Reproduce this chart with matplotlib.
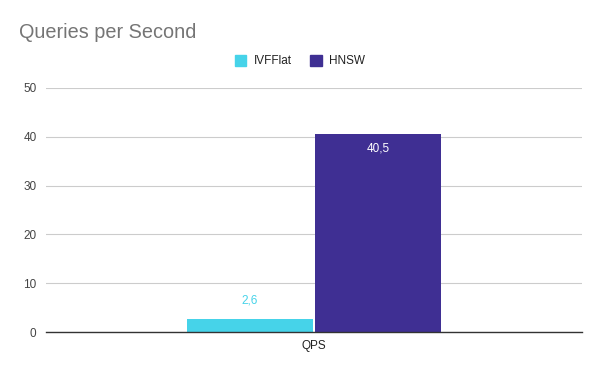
import matplotlib
matplotlib.use("Agg")
import matplotlib.pyplot as plt
from matplotlib.patches import Rectangle

categories = ["QPS"]
series_names = ["IVFFlat", "HNSW"]
ivfflat = [2.6]
hnsw = [40.5]
yticks = [0, 10, 20, 30, 40, 50]

colors = ["#46d3e9", "#3f2f93"]

plt.rcParams['font.family'] = ['Liberation Sans', 'DejaVu Sans']
fig = plt.figure(figsize=(6, 3.71), dpi=100)
ax = fig.add_axes([0.077, 0.105, 0.893, 0.658])

w = 0.236
offs = [-0.1195, 0.1195]
vals = [ivfflat, hnsw]
for i, (name, v) in enumerate(zip(series_names, vals)):
    ax.bar([offs[i]], v, width=w, color=colors[i], label=name, zorder=3)

ax.text(offs[0], ivfflat[0] + 3.9, f"{ivfflat[0]}".replace(".", ","), ha="center", va="center",
        color=colors[0], fontsize=8.5)
ax.text(offs[1], hnsw[0] - 2.9, f"{hnsw[0]}".replace(".", ","), ha="center", va="center",
        color="white", fontsize=8.5)

ax.set_xlim(-0.5, 0.5)
ax.set_ylim(0, 50)
ax.set_yticks(yticks)
ax.set_yticklabels([str(t) for t in yticks], color="#444444", fontsize=8.5)
ax.set_xticks([0])
ax.set_xticklabels(categories, color="#222222", fontsize=8.5)
ax.tick_params(length=0, pad=7)
ax.tick_params(axis='x', pad=6)
for s in ["top", "right", "left"]:
    ax.spines[s].set_visible(False)
ax.spines["bottom"].set_color("#333333")
ax.spines["bottom"].set_linewidth(1)
ax.spines["bottom"].set_zorder(4)
ax.grid(axis="y", color="#cccccc", linewidth=0.8, zorder=0)

fig.text(0.032, 0.913, "Queries per Second", color="#757575", fontsize=14.3, ha="left", va="center")

handles = [Rectangle((0, 0), 1, 1, color=c) for c in colors]
fig.legend(handles, series_names, loc="center", bbox_to_anchor=(0.5, 0.835), ncol=2,
           frameon=False, fontsize=8.5, handlelength=1.0, handleheight=1.0,
           handletextpad=0.6, columnspacing=1.6, labelcolor="#222222")

fig.savefig("out.png", dpi=100, facecolor="white")
